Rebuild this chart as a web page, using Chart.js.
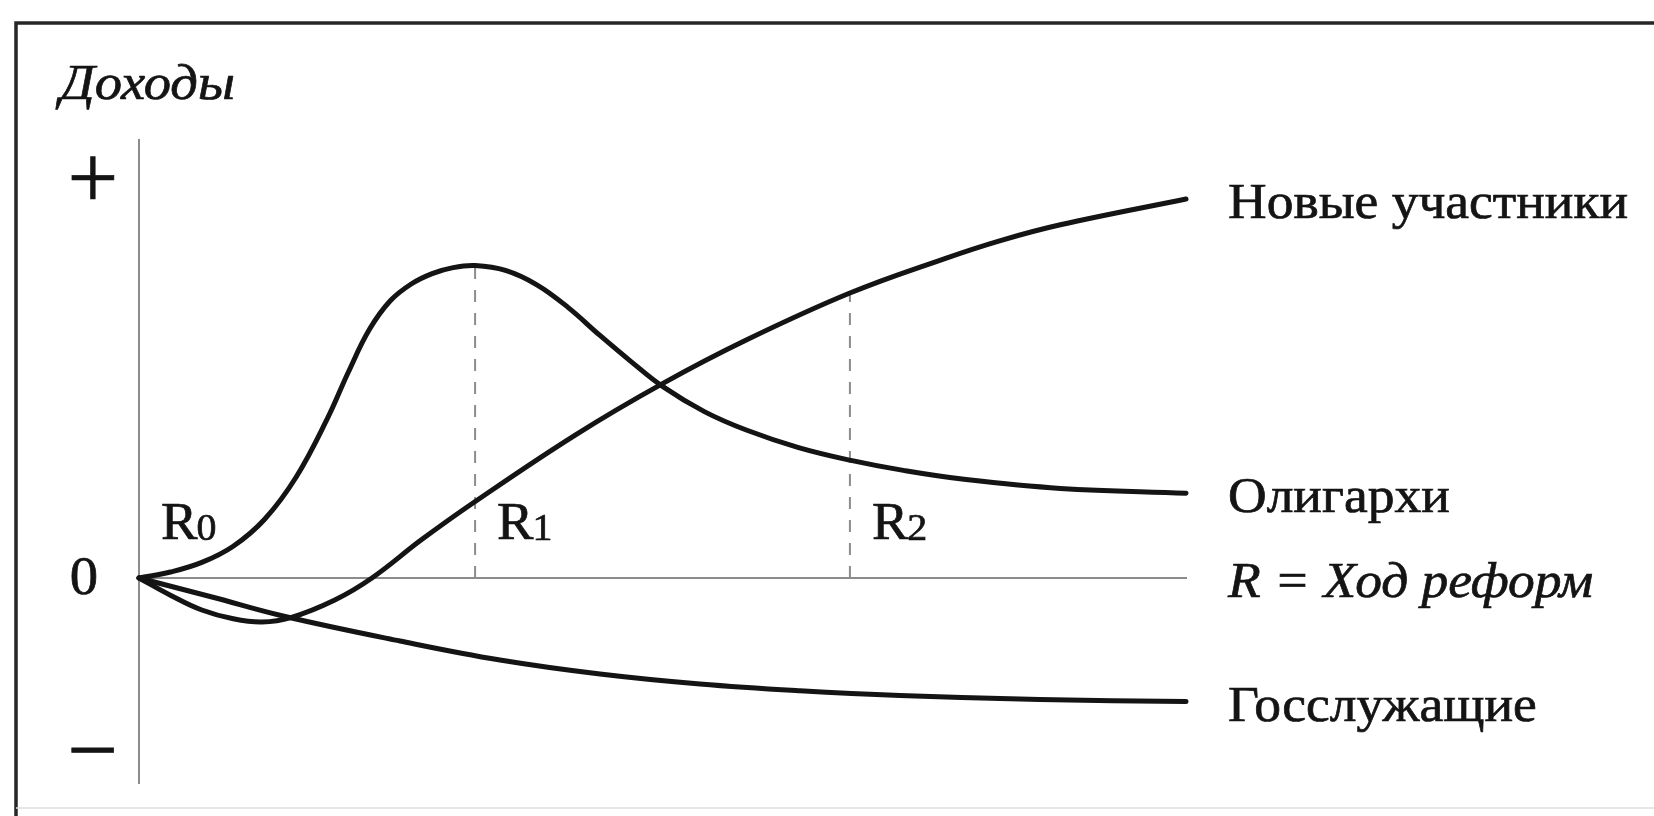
<!DOCTYPE html>
<html>
<head>
<meta charset="utf-8">
<script src="https://cdn.jsdelivr.net/npm/chart.js@4.4.1/dist/chart.umd.min.js"></script>
<style>
html,body{margin:0;padding:0;background:#fff;}
canvas{display:block;}
</style>
</head>
<body>
<canvas id="c" width="1654" height="816"></canvas>
<script>
// ---- data ----
const yAxisTitle = 'Доходы';
const xAxisName = 'R = Ход реформ';
const seriesNames = ['Новые участники', 'Олигархи', 'Госслужащие'];

const newcomersR      = [0, 3, 6, 9, 11.75, 14.5, 18.7, 22.25, 27, 31.9, 41.7, 50, 58, 67.9, 76.9, 82.2, 88, 100];
const newcomersIncome = [0, -4.3, -8, -10.2, -11, -9.9, -5.5, 0, 9.6, 18.75, 35.8, 48.6, 59.5, 71.25, 79.8, 84.3, 88.3, 94.75];

const oligarchsR      = [0, 3, 6, 9, 12, 15, 18, 20, 22, 24, 26, 28, 30, 32.1, 35, 38, 41, 44, 47, 50, 54, 58, 63, 68, 73, 79, 88, 100];
const oligarchsIncome = [0, 1.5, 3.9, 7.95, 14.7, 25.2, 39.9, 51.5, 62.1, 69.3, 73.5, 76.1, 77.6, 78.1, 76.9, 73.3, 67.6, 60.7, 54.1, 47.9, 41.6, 37, 32.6, 29.4, 26.9, 24.6, 22.4, 21.2];

const officialsR      = [0, 6.97, 13.75, 24.93, 34.48, 44.03, 53.58, 63.13, 72.68, 86, 100];
const officialsIncome = [0, -4.75, -9.5, -15.75, -20.5, -24, -26.5, -28.2, -29.4, -30.4, -30.9];

const stageLetters = ['R', 'R', 'R'];
const stageDigits  = ['0', '1', '2'];
const stageR       = [0, 32.1, 67.9];

const yTickValues = [100, 0, -43];
const yTickLabels = ['+', '0', '−'];

// ---- build ----
const pts = (xs, ys) => xs.map((x, i) => ({x, y: ys[i]}));
const r1Top = oligarchsIncome[oligarchsR.indexOf(stageR[1])];
const r2Top = newcomersIncome[newcomersR.indexOf(stageR[2])];

const INK = '#141414';
const GREY = '#8c8c8c';
const SERIF = '"Liberation Serif", "Times New Roman", serif';

function txt(ctx, s, x, y, font, align, sx) {
  ctx.save();
  ctx.font = font;
  ctx.textAlign = align || 'left';
  ctx.textBaseline = 'alphabetic';
  ctx.translate(x, y);
  ctx.scale(sx || 1, 1);
  ctx.fillStyle = INK;
  ctx.strokeStyle = INK;
  ctx.lineWidth = 0.7;
  ctx.fillText(s, 0, 0);
  ctx.strokeText(s, 0, 0);
  ctx.restore();
}

const decor = {
  id: 'decor',
  beforeDraw(chart) {
    const ctx = chart.ctx;
    ctx.save();
    ctx.fillStyle = '#fff';
    ctx.fillRect(0, 0, chart.width, chart.height);
    ctx.restore();
  },
  afterDraw(chart) {
    const ctx = chart.ctx;
    const xs = chart.scales.x, ys = chart.scales.y;
    ctx.save();
    // frame
    ctx.strokeStyle = '#262626';
    ctx.lineWidth = 3.5;
    ctx.beginPath();
    ctx.moveTo(16, chart.height);
    ctx.lineTo(16, 23);
    ctx.lineTo(chart.width, 23);
    ctx.stroke();
    ctx.strokeStyle = '#dedede';
    ctx.lineWidth = 1.5;
    ctx.beginPath();
    ctx.moveTo(16, 808);
    ctx.lineTo(chart.width, 808);
    ctx.stroke();

    // y title
    txt(ctx, yAxisTitle, 60, 99, 'italic 51px ' + SERIF, 'left', 1.07);
    // y tick labels
    yTickLabels.forEach((lab, i) => {
      const y = ys.getPixelForValue(yTickValues[i]);
      if (lab === '0') txt(ctx, lab, 84, y + 16, '54px ' + SERIF, 'center', 1.05);
      else txt(ctx, lab, 93, y + 30, '90px ' + SERIF, 'center', 1.0);
    });
    // stage labels
    const base = ys.getPixelForValue(0) - 39;
    stageR.forEach((r, i) => {
      const x = xs.getPixelForValue(r) + 22;
      ctx.save();
      ctx.font = '52px ' + SERIF;
      const w = ctx.measureText(stageLetters[i]).width * 1.05;
      ctx.restore();
      txt(ctx, stageLetters[i], x, base, '52px ' + SERIF, 'left', 1.05);
      txt(ctx, stageDigits[i], x + w - 1, base + 1, '38px ' + SERIF, 'left', 1.05);
    });
    // series labels at line ends
    const lx = xs.getPixelForValue(100) + 42;
    txt(ctx, seriesNames[0], lx, ys.getPixelForValue(newcomersIncome[newcomersIncome.length - 1]) + 19, '50px ' + SERIF, 'left', 1.07);
    txt(ctx, seriesNames[1], lx, ys.getPixelForValue(oligarchsIncome[oligarchsIncome.length - 1]) + 19, '50px ' + SERIF, 'left', 1.07);
    txt(ctx, xAxisName, lx, ys.getPixelForValue(0) + 19, 'italic 50px ' + SERIF, 'left', 1.07);
    txt(ctx, seriesNames[2], lx, ys.getPixelForValue(officialsIncome[officialsIncome.length - 1]) + 19, '50px ' + SERIF, 'left', 1.07);
    ctx.restore();
  }
};

const curve = (label, data) => ({
  label, data,
  borderColor: INK, borderWidth: 5,
  pointRadius: 0, fill: false,
  tension: 0.4,
  borderCapStyle: 'round', borderJoinStyle: 'round',
  clip: false, order: 0
});
const dashed = (label, data) => ({
  label, data,
  borderColor: GREY, borderWidth: 2,
  borderDash: [12, 11],
  pointRadius: 0, fill: false, tension: 0,
  clip: false, order: 1
});

new Chart(document.getElementById('c'), {
  type: 'line',
  data: {
    datasets: [
      curve(seriesNames[0], pts(newcomersR, newcomersIncome)),
      curve(seriesNames[1], pts(oligarchsR, oligarchsIncome)),
      curve(seriesNames[2], pts(officialsR, officialsIncome)),
      dashed('R1', [{x: stageR[1], y: 0}, {x: stageR[1], y: r1Top}]),
      dashed('R2', [{x: stageR[2], y: 0}, {x: stageR[2], y: r2Top}])
    ]
  },
  options: {
    responsive: false,
    animation: false,
    events: [],
    layout: { padding: { left: 139, right: 468, top: 140, bottom: 33 } },
    plugins: { legend: { display: false }, tooltip: { enabled: false }, title: { display: false } },
    scales: {
      x: {
        type: 'linear', min: 0, max: 100,
        position: { y: 0 },
        grid: { display: false },
        ticks: { display: false },
        border: { display: true, color: GREY, width: 2 }
      },
      y: {
        type: 'linear', min: -51.25, max: 109.5,
        position: 'left',
        grid: { display: false },
        ticks: { display: false },
        border: { display: true, color: GREY, width: 2 },
        afterFit(s) { s.width = 0; }
      }
    }
  },
  plugins: [decor]
});
</script>
</body>
</html>
